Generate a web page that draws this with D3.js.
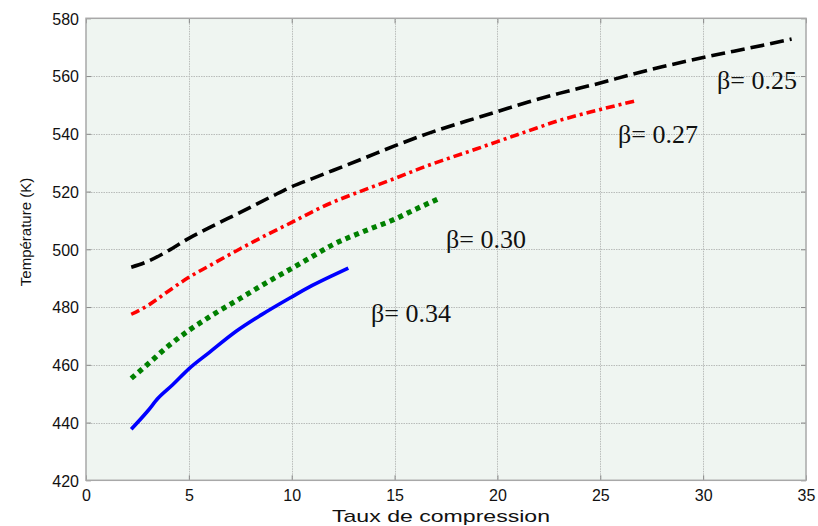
<!DOCTYPE html>
<html>
<head>
<meta charset="utf-8">
<script src="https://cdn.jsdelivr.net/npm/d3@7/dist/d3.min.js"></script>
<style>
  html, body { margin: 0; padding: 0; background: #ffffff; }
  svg { display: block; }
  .tick-label { font-family: "Liberation Sans", Arial, sans-serif; font-size: 16px; fill: #111; }
  .axis-title { font-family: "Liberation Sans", Arial, sans-serif; fill: #111; }
  .beta-label { font-family: "Liberation Serif", "Times New Roman", serif; font-size: 26px; fill: #111; }
</style>
</head>
<body>
<svg id="chart" width="818" height="526"></svg>
<script>
// Compression ratio (x) vs temperature in K (y) for four values of beta
const xTicks = [0, 5, 10, 15, 20, 25, 30, 35];
const yTicks = [420, 440, 460, 480, 500, 520, 540, 560, 580];

const beta025 = [
  [2.2, 493.8], [3.0, 495.8], [4.0, 499.5], [5.0, 503.8], [6.0, 507.5], [7.5, 512.8],
  [9.0, 518.2], [10.0, 521.7], [11.0, 524.5], [12.0, 527.3], [13.5, 531.5],
  [15.0, 535.8], [16.5, 539.8], [17.5, 542.2], [19.0, 545.5], [20.0, 547.7],
  [21.5, 551.0], [23.0, 554.0], [25.0, 557.6], [26.5, 560.5], [28.0, 563.2],
  [30.0, 566.4], [31.5, 568.6], [33.0, 570.8], [34.3, 572.8]
];
const beta027 = [
  [2.2, 477.5], [3.0, 480.5], [4.0, 485.5], [5.0, 490.3], [6.0, 494.3], [7.5, 500.2],
  [9.0, 505.8], [10.0, 509.3], [11.0, 513.0], [12.0, 516.3], [13.5, 520.5],
  [15.0, 524.5], [16.5, 528.7], [17.5, 531.2], [19.0, 534.8], [20.0, 537.3],
  [21.5, 541.0], [23.0, 544.6], [25.0, 548.4], [26.7, 551.4]
];
const beta030 = [
  [2.2, 455.3], [3.0, 460.2], [4.0, 466.5], [5.0, 471.9], [6.0, 476.6], [7.5, 483.0],
  [9.0, 489.4], [10.0, 493.4], [11.0, 497.5], [12.0, 501.6], [13.5, 506.2],
  [15.0, 510.4], [16.0, 513.8], [17.1, 517.4]
];
const beta034 = [
  [2.2, 437.7], [3.0, 444.0], [3.5, 448.4], [4.2, 453.0], [5.0, 458.6], [6.0, 464.3],
  [7.3, 471.6], [8.5, 477.2], [10.0, 483.5], [11.0, 487.5], [12.0, 491.0], [12.75, 493.5]
];

const series = [
  { name: "β= 0.25", data: beta025, color: "#000000", width: 3.6, dash: "14,6", label: [717, 89] },
  { name: "β= 0.27", data: beta027, color: "#ff0000", width: 3.6, dash: "9,4,3,4", label: [618, 143] },
  { name: "β= 0.30", data: beta030, color: "#008000", width: 5.2, dash: "5,4.5", label: [446, 248] },
  { name: "β= 0.34", data: beta034, color: "#0000ff", width: 3.6, dash: null, label: [371, 322] }
];

const svg = d3.select("#chart");
const plot = { left: 86, right: 806, top: 18.3, bottom: 480.3 };

const x = d3.scaleLinear().domain([0, 35]).range([plot.left, plot.right]);
const y = d3.scaleLinear().domain([420, 580]).range([plot.bottom, plot.top]);

// plot background
svg.append("rect")
  .attr("x", plot.left).attr("y", plot.top)
  .attr("width", plot.right - plot.left).attr("height", plot.bottom - plot.top)
  .attr("fill", "#eff5f1");

// grid lines
const grid = svg.append("g").attr("stroke", "#b9bcba").attr("stroke-width", 1).attr("stroke-dasharray", "1.5,1");
grid.selectAll("line.v").data(xTicks.slice(1, -1)).enter().append("line")
  .attr("x1", d => Math.round(x(d)) + 0.5).attr("x2", d => Math.round(x(d)) + 0.5)
  .attr("y1", plot.top).attr("y2", plot.bottom);
grid.selectAll("line.h").data(yTicks.slice(1, -1)).enter().append("line")
  .attr("y1", d => Math.round(y(d)) + 0.5).attr("y2", d => Math.round(y(d)) + 0.5)
  .attr("x1", plot.left).attr("x2", plot.right);

// axes with inward ticks
const xAxis = d3.axisBottom(x).tickValues(xTicks).tickSize(-5).tickPadding(9).tickFormat(d3.format("d"));
const yAxis = d3.axisLeft(y).tickValues(yTicks).tickSize(-5).tickPadding(7).tickFormat(d3.format("d"));

const gx = svg.append("g").attr("transform", `translate(0,${plot.bottom})`).call(xAxis);
const gy = svg.append("g").attr("transform", `translate(${plot.left},0)`).call(yAxis);
[gx, gy].forEach(g => {
  g.select(".domain").remove();
  g.selectAll(".tick line").attr("stroke", "#8a8a8a");
  g.selectAll(".tick text").attr("class", "tick-label").attr("fill", "#111");
});
gx.selectAll(".tick text").attr("dy", "0.75em");
gy.selectAll(".tick text").attr("dy", "0.36em");

// mirrored ticks on top and right
svg.append("g").attr("transform", `translate(0,${plot.top})`)
  .call(d3.axisTop(x).tickValues(xTicks).tickSize(-5).tickFormat(""))
  .call(g => { g.select(".domain").remove(); g.selectAll("line").attr("stroke", "#8a8a8a"); });
svg.append("g").attr("transform", `translate(${plot.right},0)`)
  .call(d3.axisRight(y).tickValues(yTicks).tickSize(-5).tickFormat(""))
  .call(g => { g.select(".domain").remove(); g.selectAll("line").attr("stroke", "#8a8a8a"); });

// frame
svg.append("rect")
  .attr("x", plot.left).attr("y", plot.top)
  .attr("width", plot.right - plot.left).attr("height", plot.bottom - plot.top)
  .attr("fill", "none").attr("stroke", "#a8a8a8").attr("stroke-width", 1.5);

// curves
const line = d3.line().x(d => x(d[0])).y(d => y(d[1])).curve(d3.curveMonotoneX);
svg.append("g").selectAll("path").data(series).enter().append("path")
  .attr("d", d => line(d.data))
  .attr("fill", "none")
  .attr("stroke", d => d.color)
  .attr("stroke-width", d => d.width)
  .attr("stroke-dasharray", d => d.dash)
  .attr("stroke-linecap", "butt")
  .attr("stroke-linejoin", "round");

// curve labels
svg.append("g").selectAll("text").data(series).enter().append("text")
  .attr("class", "beta-label")
  .attr("x", d => d.label[0]).attr("y", d => d.label[1])
  .text(d => d.name);

// axis titles
svg.append("text").attr("class", "axis-title")
  .attr("x", 441).attr("y", 522).attr("text-anchor", "middle")
  .attr("font-size", 17).attr("textLength", 218).attr("lengthAdjust", "spacingAndGlyphs")
  .text("Taux de compression");
svg.append("text").attr("class", "axis-title")
  .attr("transform", "translate(31,232) rotate(-90)")
  .attr("text-anchor", "middle")
  .attr("font-size", 15)
  .text("Température (K)");
</script>
</body>
</html>
